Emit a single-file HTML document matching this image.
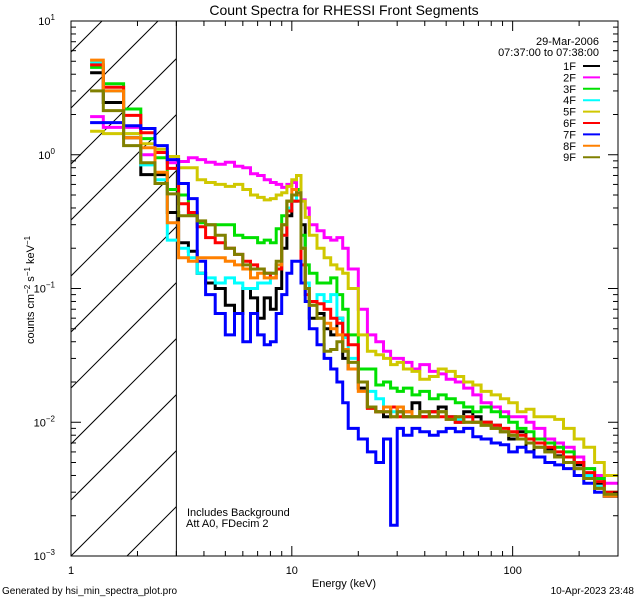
<!DOCTYPE html>
<html><head><meta charset="utf-8"><style>
body{margin:0;background:#fff;}
svg text{font-family:"Liberation Sans",sans-serif;fill:#000;}
</style></head><body>
<svg id="chart" width="640" height="600" xmlns="http://www.w3.org/2000/svg">
<rect width="640" height="600" fill="#fff"/>
<text x="344" y="15" font-size="14" text-anchor="middle">Count Spectra for RHESSI Front Segments</text>
<g id="hatch"></g>
<g id="series"></g>
<g id="axes"></g>
<text x="599" y="45" font-size="11" text-anchor="end">29-Mar-2006</text>
<text x="599" y="56" font-size="11" text-anchor="end">07:37:00 to 07:38:00</text>
<g id="legend"></g>
<text x="187" y="516" font-size="11">Includes Background</text>
<text x="186" y="527" font-size="11">Att A0, FDecim 2</text>
<text x="344" y="587" font-size="11" text-anchor="middle">Energy (keV)</text>
<text transform="translate(34,290) rotate(-90)" font-size="11" text-anchor="middle">counts cm<tspan font-size="8" dy="-4">−2</tspan><tspan dy="4"> s</tspan><tspan font-size="8" dy="-4">−1</tspan><tspan dy="4"> keV</tspan><tspan font-size="8" dy="-4">−1</tspan></text>
<text x="2" y="594" font-size="10">Generated by hsi_min_spectra_plot.pro</text>
<text x="634" y="594" font-size="10" text-anchor="end">10-Apr-2023 23:48</text>
</svg>
<script>
const edges=[1.22,1.4,1.73,2.07,2.4,2.73,3.07,3.4,3.73,4.07,4.5,5,5.5,6,6.5,7,7.5,8,8.5,9,9.5,10,10.5,11,11.5,12,13,14,15,16,17,18,20,22,24,26,28,30,32,35,38,42,46,50,55,60,66,72,80,88,96,105,115,125,140,155,170,190,210,235,260,300];
const names=["1F","2F","3F","4F","5F","6F","7F","8F","9F"];
const colors=["#000000","#ff00ff","#00e000","#00ffff","#d0c800","#ff0000","#0000ff","#ff8000","#808000"];
const s1F=[4.1,2.46,1.34,0.71,0.71,0.37,0.22,0.19,0.13,0.11,0.1,0.075,0.065,0.1,0.085,0.06,0.085,0.07,0.1,0.2,0.35,0.45,0.55,0.3,0.1,0.06,0.065,0.05,0.045,0.06,0.03,0.025,0.018,0.013,0.012,0.011,0.013,0.012,0.011,0.014,0.011,0.012,0.013,0.011,0.01,0.012,0.011,0.01,0.0095,0.0085,0.0075,0.0085,0.006,0.007,0.0062,0.0056,0.0055,0.0048,0.004,0.0035,0.0028];
const s2F=[1.93,1.6,1.6,1.0,1.04,0.87,0.89,0.95,0.92,0.88,0.85,0.88,0.82,0.8,0.72,0.7,0.65,0.62,0.6,0.57,0.6,0.62,0.55,0.46,0.4,0.3,0.27,0.24,0.23,0.24,0.2,0.14,0.07,0.045,0.04,0.034,0.03,0.03,0.028,0.025,0.027,0.024,0.023,0.021,0.02,0.018,0.016,0.014,0.013,0.012,0.011,0.011,0.01,0.009,0.0075,0.007,0.0065,0.0055,0.0045,0.004,0.0035];
const s3F=[4.5,3.4,2.2,1.32,0.95,0.55,0.5,0.36,0.31,0.3,0.3,0.3,0.25,0.24,0.24,0.22,0.23,0.22,0.28,0.35,0.45,0.5,0.55,0.25,0.15,0.13,0.11,0.11,0.12,0.09,0.07,0.045,0.025,0.025,0.019,0.02,0.018,0.017,0.018,0.016,0.017,0.015,0.016,0.015,0.014,0.013,0.012,0.013,0.012,0.011,0.01,0.009,0.0085,0.0075,0.007,0.0065,0.006,0.005,0.0045,0.0038,0.003];
const s4F=[4.9,3.0,1.44,0.84,0.65,0.23,0.2,0.17,0.13,0.12,0.11,0.12,0.11,0.1,0.1,0.11,0.11,0.13,0.15,0.25,0.4,0.5,0.45,0.2,0.11,0.08,0.09,0.08,0.09,0.06,0.043,0.03,0.02,0.017,0.015,0.013,0.012,0.013,0.012,0.011,0.012,0.011,0.012,0.011,0.0105,0.011,0.01,0.0095,0.009,0.0085,0.008,0.0075,0.007,0.0065,0.006,0.0055,0.005,0.0045,0.004,0.0033,0.0028];
const s5F=[1.5,1.44,1.44,1.21,1.1,0.97,0.8,0.8,0.65,0.62,0.6,0.58,0.6,0.55,0.5,0.48,0.46,0.47,0.5,0.52,0.58,0.65,0.7,0.45,0.34,0.25,0.2,0.17,0.15,0.14,0.13,0.1,0.045,0.034,0.032,0.03,0.027,0.028,0.025,0.024,0.021,0.022,0.025,0.024,0.022,0.02,0.019,0.017,0.016,0.015,0.014,0.012,0.0125,0.011,0.011,0.0105,0.009,0.0075,0.0065,0.005,0.004];
const s6F=[4.7,3.2,1.97,1.46,1.04,0.79,0.43,0.37,0.29,0.24,0.22,0.2,0.18,0.16,0.15,0.14,0.13,0.12,0.14,0.25,0.38,0.45,0.45,0.15,0.09,0.08,0.077,0.07,0.06,0.055,0.045,0.038,0.02,0.0127,0.012,0.012,0.013,0.011,0.012,0.011,0.011,0.012,0.011,0.011,0.01,0.011,0.01,0.01,0.0095,0.009,0.0085,0.008,0.0075,0.007,0.0065,0.006,0.0055,0.005,0.0042,0.0036,0.003];
const s7F=[1.74,1.74,1.65,1.57,1.17,0.92,0.61,0.47,0.16,0.09,0.065,0.045,0.065,0.04,0.065,0.045,0.038,0.04,0.065,0.09,0.13,0.16,0.16,0.11,0.08,0.05,0.038,0.03,0.025,0.02,0.014,0.009,0.0075,0.006,0.005,0.0075,0.0017,0.009,0.008,0.009,0.0085,0.008,0.0085,0.009,0.0085,0.009,0.0078,0.0075,0.007,0.0068,0.006,0.0065,0.006,0.0055,0.005,0.0048,0.0045,0.004,0.0035,0.003,0.0028];
const s8F=[5.1,3.0,1.34,1.13,0.74,0.31,0.17,0.16,0.17,0.17,0.17,0.16,0.15,0.14,0.12,0.13,0.12,0.12,0.15,0.3,0.45,0.55,0.5,0.2,0.1,0.075,0.06,0.055,0.05,0.045,0.035,0.025,0.017,0.013,0.012,0.013,0.011,0.013,0.012,0.011,0.012,0.011,0.012,0.0105,0.011,0.01,0.01,0.0095,0.009,0.0085,0.008,0.0075,0.007,0.0065,0.006,0.0055,0.005,0.0045,0.0038,0.0032,0.0028];
const s9F=[3.0,2.14,1.17,0.87,0.61,0.51,0.35,0.35,0.32,0.3,0.25,0.2,0.18,0.15,0.14,0.14,0.13,0.13,0.16,0.3,0.45,0.5,0.52,0.2,0.1,0.075,0.06,0.034,0.035,0.04,0.034,0.028,0.02,0.013,0.012,0.012,0.011,0.012,0.011,0.011,0.012,0.011,0.012,0.0105,0.011,0.01,0.01,0.0095,0.009,0.0085,0.008,0.0075,0.007,0.0065,0.006,0.0055,0.005,0.0045,0.0038,0.0032,0.0029];
const seriesValues=[s1F,s2F,s3F,s4F,s5F,s6F,s7F,s8F,s9F];
const xTickLabels=["1","10","100"];
const yTickExps=["0","−1","−2","−3"];

const L=71,R=618,T=21,B=556,XMIN=1,XMAX=300,YMIN=1e-3,YMAX=10;
const xs=e=>L+(R-L)*Math.log10(e/XMIN)/Math.log10(XMAX/XMIN);
const ys=v=>B-(B-T)*Math.log10(v/YMIN)/Math.log10(YMAX/YMIN);
const NS="http://www.w3.org/2000/svg";
function mk(tag,attrs,parent){const el=document.createElementNS(NS,tag);for(const k in attrs)el.setAttribute(k,attrs[k]);parent.appendChild(el);return el;}

const hatch=document.getElementById('hatch');
const clip=mk('clipPath',{id:'hclip'},document.getElementById('chart'));
mk('rect',{x:L,y:T,width:xs(3)-L,height:B-T},clip);
const hg=mk('g',{'clip-path':'url(#hclip)'},hatch);
for(let k=-12;k<12;k++){
  const x0=L+k*56;
  const ln=mk('line',{x1:x0,y1:B,x2:x0+(B-T),y2:T,stroke:'#000','stroke-width':1},hg);
  
  
}
const vl=mk('line',{x1:xs(3),y1:T,x2:xs(3),y2:B,stroke:'#000','stroke-width':1},hatch);



const sg=document.getElementById('series');
seriesValues.forEach((vals,i)=>{
  let d='';
  vals.forEach((v,j)=>{
    const x1=xs(edges[j]),x2=xs(edges[j+1]),y=ys(v);
    d+=(j===0?'M':'L')+x1.toFixed(1)+','+y.toFixed(1)+'L'+x2.toFixed(1)+','+y.toFixed(1);
  });
  const p=mk('path',{d:d,fill:'none',stroke:colors[i],'stroke-width':3,'stroke-linejoin':'miter'},sg);
  
  
});

const ax=document.getElementById('axes');
const fr=mk('rect',{x:L,y:T,width:R-L,height:B-T,fill:'none',stroke:'#000','stroke-width':1},ax);


for(let dec=1;dec<=100;dec*=10){
  for(let m=1;m<10;m++){
    const e=dec*m; if(e>XMAX) break;
    const x=xs(e),len=m===1?10:5;
    mk('line',{x1:x,y1:B,x2:x,y2:B-len,stroke:'#000'},ax);
    mk('line',{x1:x,y1:T,x2:x,y2:T+len,stroke:'#000'},ax);
  }
}
xTickLabels.forEach(t=>{
  const tx=mk('text',{x:xs(+t),y:B+18,'font-size':11,'text-anchor':'middle'},ax);
  tx.textContent=t;
  
  
});
for(let p=-3;p<1;p++){
  for(let m=1;m<10;m++){
    const v=Math.pow(10,p)*m; const y=ys(v),len=m===1?10:5;
    mk('line',{x1:L,y1:y,x2:L+len,y2:y,stroke:'#000'},ax);
    mk('line',{x1:R,y1:y,x2:R-len,y2:y,stroke:'#000'},ax);
  }
}
const ylabs=["1",...yTickExps];
ylabs.forEach((ex,i)=>{
  const y=ys(Math.pow(10,1-i));
  const tx=mk('text',{x:L-16,y:y+4,'font-size':11,'text-anchor':'end'},ax);
  tx.innerHTML='10<tspan font-size="8" dy="-5">'+ex+'</tspan>';
  
  
});

const lg=document.getElementById('legend');
names.forEach((n,i)=>{
  const y=66+i*11.4;
  const g=mk('g',{},lg);
  
  
  const t=mk('text',{x:576,y:y+4,'font-size':11,'text-anchor':'end'},g);
  t.textContent=n;
  mk('line',{x1:583,y1:y,x2:600,y2:y,stroke:colors[i],'stroke-width':2},g);
});
</script>
</body></html>
